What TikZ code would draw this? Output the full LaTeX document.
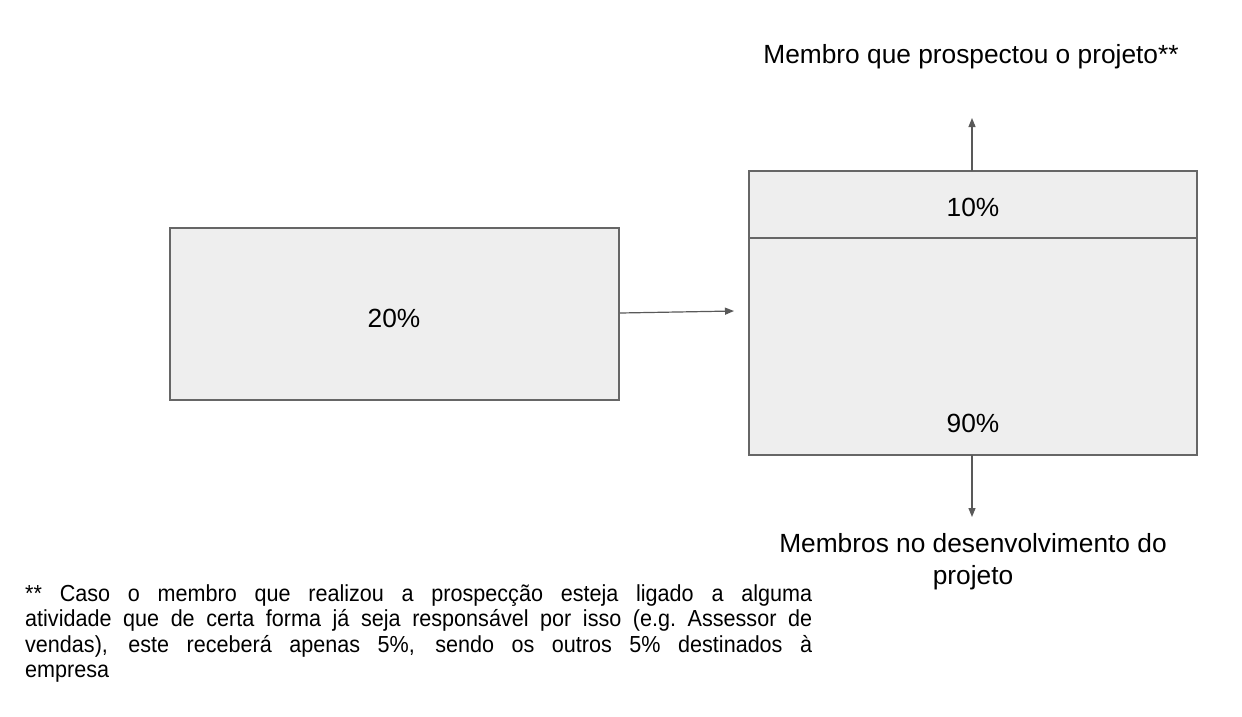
\documentclass[tikz,border=0pt]{standalone}
\usepackage{fontspec}
\setmainfont{Liberation Sans}
\newfontfamily\notefont[FakeStretch=0.93]{Liberation Sans}
\usetikzlibrary{arrows.meta}
\definecolor{boxfill}{HTML}{EEEEEE}
\definecolor{boxline}{HTML}{666666}
\definecolor{arr}{HTML}{595959}
\tikzset{
  pbox/.style={draw=boxline, line width=1.2pt, fill=boxfill},
  conn/.style={draw=arr, line width=1.2pt, -{Triangle[length=9pt,width=7pt]}},
  lbl/.style={font=\fontsize{26.3}{32}\selectfont, text=black, inner sep=0pt}
}
\begin{document}
\begin{tikzpicture}[x=1pt,y=-1pt]
\useasboundingbox (0,0) rectangle (1242,716);
\fill[white] (0,0) rectangle (1242,716);
% left box
\draw[pbox] (170,228) rectangle (619,400);
\node[lbl] (p20) at (394,318) {20\%};
\coordinate (lr) at (620,313);
% right box
\draw[pbox] (749,171) rectangle (1197,455);
\draw[draw=boxline, line width=1.2pt] (749,238) -- (1197,238);
\node[lbl] (p10) at (973,207) {10\%};
\node[lbl] (p90) at (973,423) {90\%};
\coordinate (rl) at (734,311);
\coordinate (rt) at (972,171);
\coordinate (rb) at (972,455);
% labels
\node[lbl] (top) at (971,57) {Membro que prospectou o projeto**};
\node[lbl, align=center] (bot) at (973,562) {Membros no desenvolvimento do\\projeto};
\coordinate (ta) at (972,118);
\coordinate (ba) at (972,517);
% connectors
\draw[conn] (lr) -- (rl);
\draw[conn] (rt) -- (ta);
\draw[conn] (rb) -- (ba);
% footnote
\node[anchor=north west, inner sep=0pt, text width=787pt, align=justify,
      font=\notefont\fontsize{23.2}{25.5}\selectfont] (note) at (25,584)
  {** Caso o membro que realizou a prospecção esteja ligado a alguma\linebreak atividade que de certa forma já seja responsável por isso (e.g.\ Assessor de\linebreak vendas), este receberá apenas 5\%, sendo os outros 5\% destinados à\linebreak empresa};
\end{tikzpicture}
\end{document}
